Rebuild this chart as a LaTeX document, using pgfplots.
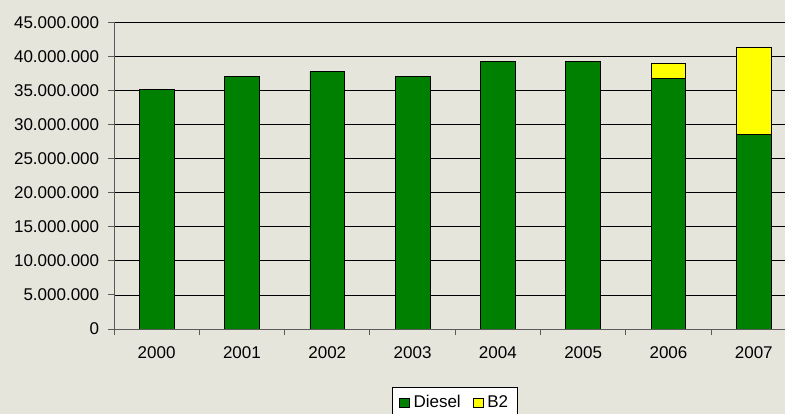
\documentclass[border=0pt]{standalone}
\usepackage{pgfplots}
\pgfplotsset{compat=1.18}
\usepackage{fontspec}
\setmainfont{Liberation Sans}
\definecolor{bg}{RGB}{230,229,220}
\definecolor{dgreen}{RGB}{0,128,0}
\definecolor{byellow}{RGB}{255,255,0}
\definecolor{axgray}{RGB}{90,90,90}
\newcommand{\chartfont}{\fontsize{17bp}{20bp}\selectfont}
\begin{document}
\chartfont
\begin{tikzpicture}[x=1bp,y=1bp]
\fill[bg] (0bp,0bp) rectangle (785bp,414bp);
\begin{axis}[
  at={(114bp,85bp)}, anchor=south west,
  scale only axis, width=671bp, height=306.7bp,
  xmin=-0.5, xmax=7.366, ymin=0, ymax=45000000,
  ybar stacked, bar width=0.407,
  scaled y ticks=false,
  axis lines*=left,
  axis line style={draw=axgray, line width=0.9bp},
  tick align=outside,
  major tick length=6bp,
  tick style={draw=axgray, line width=0.9bp},
  ymajorgrids,
  grid style={draw=black, line width=0.8bp},
  ytick={0,5000000,10000000,15000000,20000000,25000000,30000000,35000000,40000000,45000000},
  yticklabels={0,5.000.000,10.000.000,15.000.000,20.000.000,25.000.000,30.000.000,35.000.000,40.000.000,45.000.000},
  yticklabel style={font=\chartfont, xshift=-3bp},
  xtick={-0.5,0.5,1.5,2.5,3.5,4.5,5.5,6.5},
  xticklabels={},
  extra x ticks={0,1,2,3,4,5,6,7},
  extra x tick labels={2000,2001,2002,2003,2004,2005,2006,2007},
  extra x tick style={major tick length=0pt, xticklabel style={font=\chartfont, yshift=-12bp}},
  legend columns=2,
  legend style={at={(axis description cs:0.5075,-0.188)}, anchor=north,
    draw=black, fill=white, line width=0.6bp, font=\chartfont,
    inner xsep=7bp, inner ysep=6bp,
    /tikz/every odd column/.append style={column sep=2bp},
    /tikz/every even column/.append style={column sep=10bp}},
  legend image code/.code={\draw[#1, line width=0.6bp] (0bp,-4.5bp) rectangle (10bp,4.5bp);},
]
\addplot[fill=dgreen, draw=black, line width=0.8bp] coordinates {
  (0,35200000) (1,37000000) (2,37800000) (3,37000000)
  (4,39200000) (5,39200000) (6,36700000) (7,28500000)};
\addplot[fill=byellow, draw=black, line width=0.8bp] coordinates {
  (0,0) (1,0) (2,0) (3,0)
  (4,0) (5,0) (6,2300000) (7,12850000)};
\legend{Diesel,B2}
\end{axis}
\pgfresetboundingbox
\useasboundingbox (0bp,0bp) rectangle (785bp,414bp);
\end{tikzpicture}
\end{document}
